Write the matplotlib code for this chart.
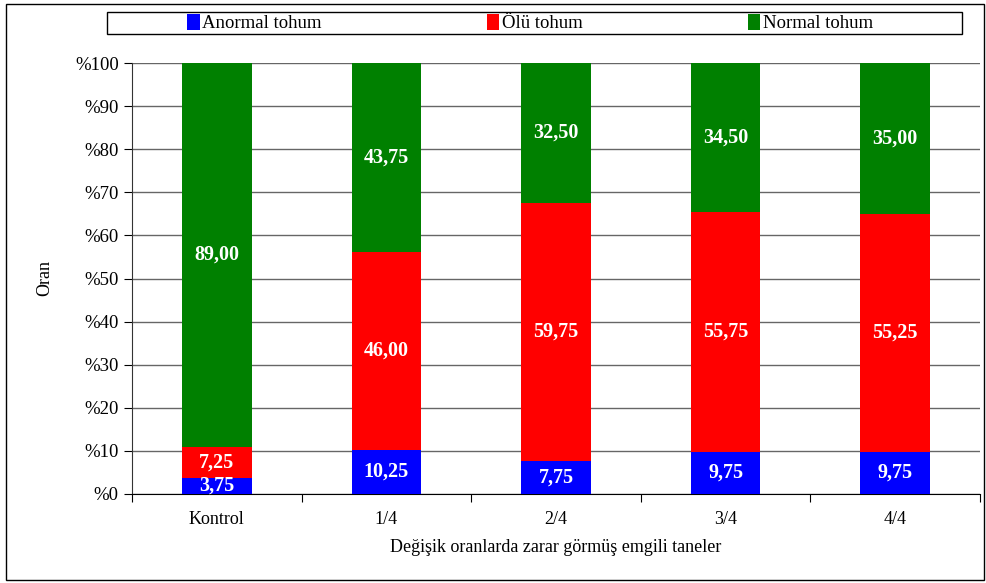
import matplotlib
matplotlib.use("Agg")
import matplotlib.pyplot as plt
from matplotlib.patches import Rectangle
import numpy as np

plt.rcParams["font.family"] = ["Liberation Serif"]

categories = ["Kontrol", "1/4", "2/4", "3/4", "4/4"]
anormal = [3.75, 10.25, 7.75, 9.75, 9.75]
olu = [7.25, 46.00, 59.75, 55.75, 55.25]
normal = [89.00, 43.75, 32.50, 34.50, 35.00]
series_names = ["Anormal tohum", "Ölü tohum", "Normal tohum"]
colors = ["#0000FF", "#FF0000", "#008000"]

fig = plt.figure(figsize=(9.86, 5.83), dpi=100)
ax = fig.add_axes([132 / 986, 89 / 583, 848 / 986, 431 / 583])

x = np.arange(len(categories))
bottom = np.zeros(len(categories))
bars = []
for vals, col, name in zip([anormal, olu, normal], colors, series_names):
    b = ax.bar(x, vals, width=0.41, bottom=bottom, color=col, label=name, zorder=3)
    for xi, v, b0 in zip(x, vals, bottom):
        ax.text(xi, b0 + v / 2, f"{v:.2f}".replace(".", ","), ha="center", va="center",
                color="white", fontsize=14.5, fontweight="bold", zorder=4)
    bars.append(b)
    bottom += np.array(vals)

ax.set_xlim(-0.5, len(categories) - 0.5)
ax.set_ylim(0, 100)
ax.set_yticks(np.arange(0, 101, 10))
ax.set_yticklabels([f"%{v}" for v in range(0, 101, 10)], fontsize=13.5)
ax.yaxis.grid(True, color="#666666", linewidth=1, zorder=0)

# category labels centered, tick marks between categories
ax.set_xticks(np.arange(-0.5, len(categories), 1.0))
ax.set_xticklabels([])
ax.set_xticks(x, minor=True)
ax.set_xticklabels(categories, minor=True, fontsize=13)
ax.tick_params(axis="x", which="minor", length=0, pad=12)
ax.tick_params(axis="x", which="major", length=6, direction="out")
ax.tick_params(axis="y", length=6, direction="out")

for s in ["top", "right"]:
    ax.spines[s].set_visible(False)
ax.spines["left"].set_color("#333333")
ax.spines["bottom"].set_color("black")

ax.set_xlabel("Değişik oranlarda zarar görmüş emgili taneler", fontsize=13, labelpad=8)
ax.set_ylabel("Oran", fontsize=13, labelpad=16)

# legend frame drawn separately so it can span the wide box
fig.patches.append(Rectangle((107 / 986, 1 - 34 / 583), 855 / 986, 22 / 583,
                             transform=fig.transFigure, fill=False,
                             edgecolor="black", linewidth=1))
fig.legend(handles=bars, labels=series_names, loc="center",
           bbox_to_anchor=(530 / 986, 1 - 23 / 583), ncol=3, fontsize=13.5,
           frameon=False, handlelength=0.65, handleheight=0.95,
           handletextpad=0.15, columnspacing=8.8, borderpad=0.1)

fig.patches.append(Rectangle((6 / 986, 3 / 583), 978 / 986, 576 / 583,
                             transform=fig.transFigure, fill=False,
                             edgecolor="black", linewidth=1))

fig.savefig("out.png", dpi=100)
